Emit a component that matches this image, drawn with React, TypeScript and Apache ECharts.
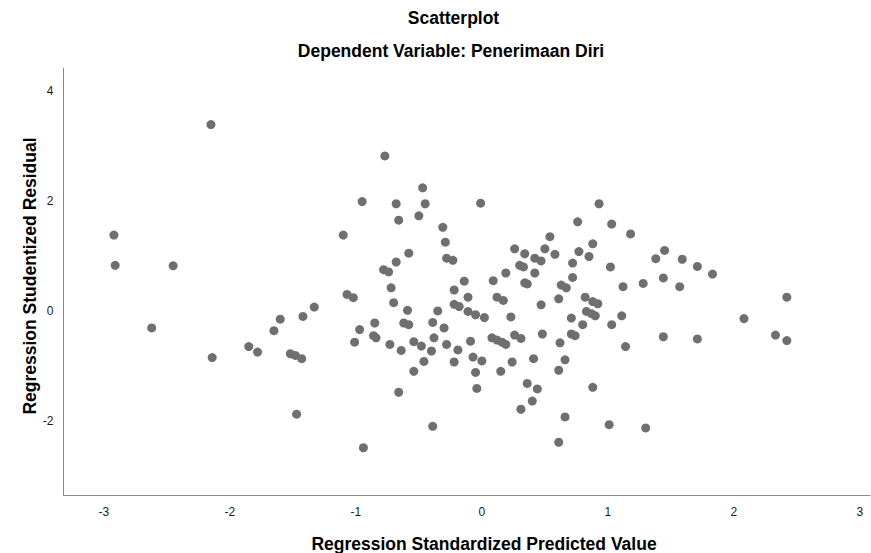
import React, { useEffect, useRef } from "react";
import * as echarts from "echarts";

const chartTitle = "Scatterplot";
const chartSubtitle = "Dependent Variable: Penerimaan Diri";
const xAxisTitle = "Regression Standardized Predicted Value";
const yAxisTitle = "Regression Studentized Residual";

const xTickValues = [-3, -2, -1, 0, 1, 2, 3];
const yTickValues = [-2, 0, 2, 4];

// Regression Standardized Predicted Value
const predicted = [
  -2.15, -2.92, -2.91, -2.45, -2.62, -2.14, -1.85, -1.78, -1.65, -1.6,
  -1.42, -1.33, -1.52, -1.48, -1.43, -1.47, -1.1, -1.07, -1.02, -0.95,
  -0.97, -1.01, -0.94, -0.77, -0.47, -0.68, -0.45, -0.01, -0.66, -0.5,
  -0.31, -0.29, 0.26, -0.58, -0.68, -0.28, -0.23, -0.78, -0.74, 0.3,
  0.33, 0.19, 0.09, -0.14, -0.72, -0.22, -0.11, 0.12, 0.17, -0.7,
  -0.22, -0.18, -0.59, -0.35, -0.11, -0.05, 0.02, 0.23, -0.85, -0.62,
  -0.58, -0.39, -0.3, -0.86, -0.84, -0.73, -0.64, -0.54, -0.48, -0.38,
  -0.4, -0.28, -0.19, -0.09, -0.46, -0.54, -0.22, -0.07, 0.0, -0.05,
  -0.04, -0.66, 0.08, 0.12, 0.16, 0.19, 0.26, 0.24, 0.15, 0.31,
  -0.39, 0.93, 0.76, 1.03, 1.18, 0.54, 0.34, 0.5, 0.58, 0.42,
  0.47, 0.88, 0.77, 0.85, 0.72, 0.42, 1.02, 1.38, 1.45, 1.59,
  0.72, 0.34, 0.36, 0.63, 0.67, 1.12, 1.28, 1.44, 1.57, 0.47,
  0.61, 0.82, 0.88, 0.92, 0.83, 0.87, 0.9, 0.71, 1.11, 0.8,
  1.03, 0.31, 0.48, 0.71, 0.74, 0.62, 1.14, 1.44, 0.41, 0.66,
  0.61, 0.36, 0.44, 0.4, 0.88, 0.66, 1.01, 1.3, 0.61, 1.71,
  1.83, 2.42, 2.08, 1.71, 2.33, 2.42,
];

// Regression Studentized Residual
const residual = [
  3.39, 1.38, 0.83, 0.82, -0.31, -0.85, -0.65, -0.75, -0.36, -0.15,
  -0.1, 0.07, -0.78, -0.81, -0.87, -1.88, 1.38, 0.3, 0.24, 1.99,
  -0.34, -0.57, -2.49, 2.82, 2.24, 1.95, 1.95, 1.96, 1.65, 1.73,
  1.52, 1.25, 1.13, 1.05, 0.89, 0.96, 0.92, 0.75, 0.71, 0.83,
  0.8, 0.69, 0.55, 0.54, 0.42, 0.38, 0.25, 0.25, 0.19, 0.15,
  0.12, 0.08, 0.01, 0.0, -0.01, -0.07, -0.12, -0.11, -0.22, -0.22,
  -0.25, -0.21, -0.31, -0.45, -0.49, -0.61, -0.72, -0.56, -0.64, -0.49,
  -0.73, -0.61, -0.71, -0.55, -0.92, -1.1, -0.93, -0.84, -0.91, -1.12,
  -1.41, -1.48, -0.49, -0.53, -0.57, -0.61, -0.44, -0.93, -1.1, -1.79,
  -2.1, 1.95, 1.62, 1.58, 1.4, 1.35, 1.04, 1.13, 1.03, 0.96,
  0.91, 1.22, 1.08, 0.99, 0.87, 0.69, 0.8, 0.95, 1.1, 0.94,
  0.61, 0.51, 0.49, 0.47, 0.42, 0.44, 0.5, 0.6, 0.44, 0.11,
  0.22, 0.25, 0.17, 0.13, -0.01, -0.05, -0.09, -0.13, -0.09, -0.25,
  -0.25, -0.5, -0.42, -0.42, -0.45, -0.58, -0.65, -0.47, -0.87, -0.89,
  -1.08, -1.32, -1.42, -1.64, -1.39, -1.93, -2.07, -2.13, -2.39, 0.81,
  0.67, 0.25, -0.14, -0.51, -0.44, -0.54,
];

const FONT = '"Liberation Sans", Arial, sans-serif';

export default function App() {
  const ref = useRef<HTMLDivElement>(null);

  useEffect(() => {
    if (!ref.current) return;
    const chart = echarts.init(ref.current, null, { renderer: "svg" });
    const points = predicted.map((x, i) => [x, residual[i]]);
    const labelStyle = {
      color: "#1a1a1a",
      fontFamily: FONT,
      fontSize: 12,
    };
    chart.setOption({
      animation: false,
      backgroundColor: "#ffffff",
      grid: { left: 63.5, top: 68, right: 1, bottom: 58 },
      xAxis: {
        type: "value",
        min: -3.32,
        max: 3.08,
        axisLine: { show: true, onZero: false, lineStyle: { color: "#8a8a8a", width: 1 } },
        axisTick: { show: false },
        splitLine: { show: false },
        axisLabel: { customValues: xTickValues, margin: 11, ...labelStyle },
      },
      yAxis: {
        type: "value",
        min: -3.35,
        max: 4.42,
        axisLine: { show: true, onZero: false, lineStyle: { color: "#8a8a8a", width: 1 } },
        axisTick: { show: false },
        splitLine: { show: false },
        axisLabel: { customValues: yTickValues, margin: 10, ...labelStyle },
      },
      graphic: [
        {
          type: "text",
          x: 453.5,
          y: 17.5,
          style: {
            text: chartTitle,
            fontFamily: FONT,
            fontWeight: "bold",
            fontSize: 17.5,
            fill: "#000000",
            align: "center",
            verticalAlign: "middle",
          },
        },
        {
          type: "text",
          x: 451,
          y: 51,
          style: {
            text: chartSubtitle,
            fontFamily: FONT,
            fontWeight: "bold",
            fontSize: 17.5,
            fill: "#000000",
            align: "center",
            verticalAlign: "middle",
          },
        },
        {
          type: "text",
          x: 484,
          y: 544,
          style: {
            text: xAxisTitle,
            fontFamily: FONT,
            fontWeight: "bold",
            fontSize: 17.5,
            fill: "#000000",
            align: "center",
            verticalAlign: "middle",
          },
        },
        {
          type: "text",
          x: 29.5,
          y: 276,
          rotation: Math.PI / 2,
          style: {
            text: yAxisTitle,
            fontFamily: FONT,
            fontWeight: "bold",
            fontSize: 17.5,
            fill: "#000000",
            align: "center",
            verticalAlign: "middle",
          },
        },
      ],
      series: [
        {
          type: "scatter",
          data: points,
          symbol: "circle",
          symbolSize: 9,
          itemStyle: { color: "#6f6f6f", opacity: 1 },
          emphasis: { disabled: true },
        },
      ],
    });
    return () => chart.dispose();
  }, []);

  return (
    <div
      ref={ref}
      style={{ position: "fixed", left: 0, top: 0, width: 871, height: 553, background: "#fff" }}
    />
  );
}
